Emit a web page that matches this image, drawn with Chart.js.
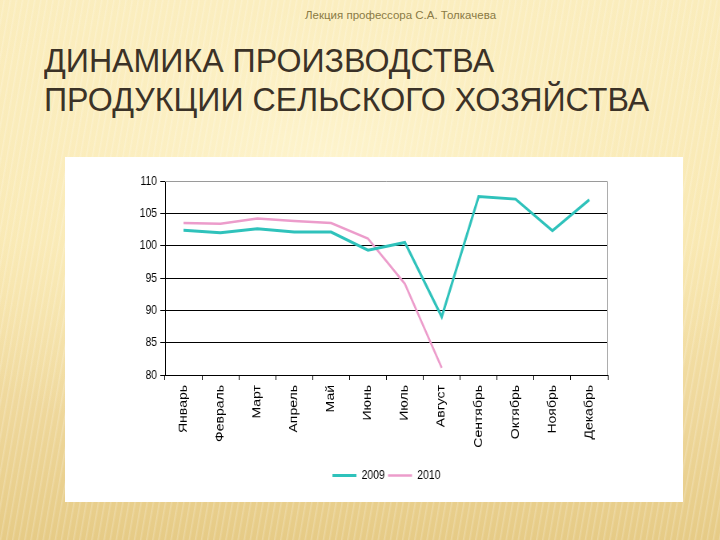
<!DOCTYPE html>
<html>
<head>
<meta charset="utf-8">
<script src="https://cdn.jsdelivr.net/npm/chart.js@4"></script>
<style>
  html, body { margin: 0; padding: 0; }
  body {
    width: 720px; height: 540px; position: relative; overflow: hidden;
    font-family: "Liberation Sans", Arial, sans-serif;
    background:
      repeating-linear-gradient(100deg, rgba(255,255,255,0) 0px, rgba(255,255,255,0) 3px, rgba(255,255,255,0.2) 4px, rgba(255,255,255,0) 6px),
      radial-gradient(ellipse 70% 55% at 45% 30%, rgba(254,245,208,0.9) 0%, rgba(252,240,196,0.55) 50%, rgba(252,240,196,0) 100%),
      linear-gradient(to bottom, #faecbb 0%, #f8e6ad 45%, #efd89c 75%, #e6cb86 100%);
  }
  .header {
    position: absolute; left: 305px; top: 9px;
    font-size: 11.5px; color: #8a7a45;
  }
  .title {
    position: absolute; left: 44px; top: 41px;
    font-size: 33.5px; line-height: 39px; color: #3b3227;
    white-space: nowrap;
    transform: scaleX(0.96); transform-origin: 0 0;
  }
  .box {
    position: absolute; left: 65px; top: 157px; width: 618px; height: 345px;
    background: #ffffff; overflow: hidden;
  }
  /* the chart in the slide is a horizontally squeezed picture */
  #chart { display: block; transform: scaleX(0.8005); transform-origin: 0 0; }
</style>
</head>
<body>
<div class="header">Лекция профессора С.А. Толкачева</div>
<div class="title">ДИНАМИКА ПРОИЗВОДСТВА<br>ПРОДУКЦИИ СЕЛЬСКОГО ХОЗЯЙСТВА</div>
<div class="box"><canvas id="chart" width="772" height="345"></canvas></div>
<script>
// months on the category axis
const months = ['Январь', 'Февраль', 'Март', 'Апрель', 'Май', 'Июнь',
  'Июль', 'Август', 'Сентябрь', 'Октябрь', 'Ноябрь', 'Декабрь'];

// index values
const values2009 = [102.4, 102.0, 102.6, 102.1, 102.1, 99.3, 100.5, 89.0, 107.6, 107.2, 102.3, 107.1];
const values2010 = [103.5, 103.4, 104.2, 103.8, 103.5, 101.1, 94.1, 81.1, null, null, null, null];

const yTicks = [80, 85, 90, 95, 100, 105, 110];

const font = "Arial, 'Liberation Sans', sans-serif";

// gray frame on the top and right edges of the plot, like the Excel plot area
const plotFrame = {
  id: 'plotFrame',
  beforeDatasetsDraw(chart) {
    const { ctx, chartArea: a } = chart;
    ctx.save();
    ctx.strokeStyle = '#9a9a9a';
    ctx.lineWidth = 1;
    ctx.beginPath();
    ctx.moveTo(a.left, a.top + 0.5);
    ctx.lineTo(a.right - 0.5, a.top + 0.5);
    ctx.lineTo(a.right - 0.5, a.bottom);
    ctx.stroke();
    ctx.restore();
  }
};

new Chart(document.getElementById('chart'), {
  type: 'line',
  data: {
    labels: months,
    datasets: [
      {
        label: '2009',
        data: values2009,
        borderColor: '#2fc2bb',
        backgroundColor: '#2fc2bb',
        borderWidth: 3,
        pointRadius: 0,
        tension: 0
      },
      {
        label: '2010',
        data: values2010,
        borderColor: '#ec9ccb',
        backgroundColor: '#ec9ccb',
        borderWidth: 2.5,
        pointRadius: 0,
        tension: 0,
        spanGaps: false
      }
    ]
  },
  options: {
    responsive: false,
    animation: false,
    layout: { padding: { left: 0, right: 94, top: 24, bottom: 10 } },
    scales: {
      x: {
        offset: true,
        grid: { offset: true, drawOnChartArea: false, drawTicks: true, tickLength: 5, color: '#000' },
        border: { color: '#000', width: 1 },
        ticks: {
          minRotation: 90, maxRotation: 90, autoSkip: false, padding: 5,
          color: '#000', font: { family: font, size: 14 }
        },
        afterFit(scale) { scale.height = 90; }
      },
      y: {
        min: 80, max: 110,
        afterBuildTicks(scale) { scale.ticks = yTicks.map(v => ({ value: v })); },
        grid: {
          color: ctx => (ctx.tick && ctx.tick.value === 110 ? 'rgba(0,0,0,0)' : '#000'),
          tickColor: '#000', tickLength: 6, lineWidth: 1
        },
        border: { color: '#000', width: 1 },
        ticks: { padding: 4, color: '#000', font: { family: font, size: 13 } },
        afterFit(scale) { scale.width = 125; }
      }
    },
    plugins: {
      legend: {
        position: 'bottom',
        fullSize: false,
        labels: {
          usePointStyle: true, pointStyle: 'line', pointStyleWidth: 30,
          padding: 4, color: '#000',
          font: { family: font, size: 13 }
        }
      },
      tooltip: { enabled: false }
    }
  },
  plugins: [plotFrame]
});
</script>
</body>
</html>
